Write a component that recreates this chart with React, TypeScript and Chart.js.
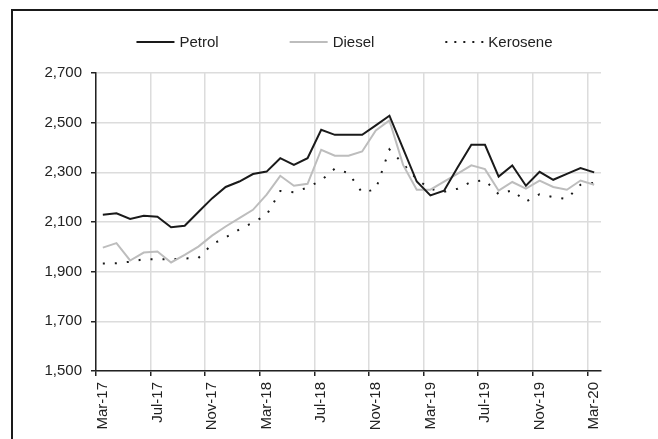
import React, { useEffect, useRef } from 'react';
import { Chart, registerables } from 'chart.js';

Chart.register(...registerables);

const months = [
  'Mar-17', 'Apr-17', 'May-17', 'Jun-17', 'Jul-17', 'Aug-17', 'Sep-17', 'Oct-17', 'Nov-17', 'Dec-17',
  'Jan-18', 'Feb-18', 'Mar-18', 'Apr-18', 'May-18', 'Jun-18', 'Jul-18', 'Aug-18', 'Sep-18', 'Oct-18',
  'Nov-18', 'Dec-18', 'Jan-19', 'Feb-19', 'Mar-19', 'Apr-19', 'May-19', 'Jun-19', 'Jul-19', 'Aug-19',
  'Sep-19', 'Oct-19', 'Nov-19', 'Dec-19', 'Jan-20', 'Feb-20', 'Mar-20',
];

const petrol = [
  2129, 2135, 2112, 2125, 2121, 2079, 2085, 2140, 2195, 2241,
  2263, 2293, 2303, 2357, 2330, 2357, 2471, 2451, 2451, 2451,
  2489, 2528, 2395, 2263, 2207, 2226, 2320, 2411, 2411, 2283,
  2328, 2246, 2302, 2270, 2294, 2317, 2300,
];

const diesel = [
  1997, 2015, 1945, 1977, 1981, 1937, 1968, 2001, 2045, 2082,
  2116, 2149, 2210, 2286, 2246, 2254, 2391, 2367, 2367, 2384,
  2469, 2509, 2330, 2230, 2230, 2263, 2295, 2328, 2313, 2226,
  2261, 2234, 2267, 2241, 2230, 2267, 2250,
];

const kerosene = [
  1933, 1934, 1940, 1950, 1950, 1950, 1953, 1955, 2010, 2038,
  2070, 2098, 2128, 2225, 2220, 2239, 2268, 2315, 2297, 2218,
  2232, 2392, 2335, 2272, 2233, 2222, 2234, 2262, 2268, 2212,
  2228, 2182, 2212, 2200, 2193, 2250, 2258,
];

const yMin = 1500;
const yMax = 2700;
const yStep = 200;
const labelEvery = 4;

const FONT = '"Liberation Sans", Arial, Helvetica, sans-serif';
const TEXT = '#222222';
const GRID = '#dcdcdc';
const AXIS = '#222222';

const lineLegend = {
  id: 'lineLegend',
  afterDraw(chart: any, _args: any, opts: any) {
    const ctx = chart.ctx as CanvasRenderingContext2D;
    const datasets = chart.data.datasets;
    ctx.save();
    ctx.font = `${opts.fontSize}px ${FONT}`;
    const widths = datasets.map((d: any) => ctx.measureText(d.label).width);
    const itemWidths = widths.map((w: number) => opts.sample + opts.textGap + w);
    const total = itemWidths.reduce((a: number, b: number) => a + b, 0) + opts.itemGap * (datasets.length - 1);
    const area = chart.chartArea;
    let x = (area.left + area.right) / 2 + opts.shift - total / 2;
    const y = opts.y;
    datasets.forEach((d: any, i: number) => {
      ctx.beginPath();
      ctx.lineWidth = d.borderWidth;
      ctx.strokeStyle = d.borderColor;
      ctx.setLineDash(d.legendDash || d.borderDash || []);
      ctx.moveTo(x, y);
      ctx.lineTo(x + opts.sample, y);
      ctx.stroke();
      ctx.setLineDash([]);
      ctx.fillStyle = TEXT;
      ctx.textBaseline = 'middle';
      ctx.textAlign = 'left';
      ctx.fillText(d.label, x + opts.sample + opts.textGap, y + 1);
      x += itemWidths[i] + opts.itemGap;
    });
    ctx.restore();
  },
};

export default function App() {
  const ref = useRef<HTMLCanvasElement>(null);

  useEffect(() => {
    if (!ref.current) return;
    Chart.defaults.font.family = FONT;
    const chart = new Chart(ref.current, {
      type: 'line',
      data: {
        labels: months,
        datasets: [
          {
            label: 'Petrol',
            data: petrol,
            borderColor: '#1a1a1a',
            borderWidth: 2,
            pointRadius: 0,
            tension: 0,
            fill: false,
          },
          {
            label: 'Diesel',
            data: diesel,
            borderColor: '#bdbdbd',
            borderWidth: 2,
            pointRadius: 0,
            tension: 0,
            fill: false,
          },
          {
            label: 'Kerosene',
            data: kerosene,
            borderColor: '#1a1a1a',
            borderWidth: 2,
            borderDash: [2, 10],
            legendDash: [2, 7],
            pointRadius: 0,
            tension: 0,
            fill: false,
          } as any,
        ],
      },
      options: {
        responsive: false,
        animation: false,
        devicePixelRatio: 1,
        layout: { padding: { left: 0, right: 57, top: 73, bottom: 0 } },
        plugins: {
          legend: { display: false },
          tooltip: { enabled: false },
          lineLegend: { y: 42, sample: 38, textGap: 5, itemGap: 71, fontSize: 15, shift: -4 },
        } as any,
        scales: {
          x: {
            type: 'category',
            offset: true,
            grid: {
              offset: true,
              lineWidth: 1.5,
              color: (c: any) => (c.index !== undefined && c.index % labelEvery === 0 ? GRID : 'rgba(0,0,0,0)'),
              tickColor: (c: any) => (c.index !== undefined && c.index % labelEvery === 0 ? AXIS : 'rgba(0,0,0,0)'),
              tickLength: 5,
              drawTicks: true,
            },
            border: { display: true, color: AXIS, width: 1.5 },
            ticks: {
              autoSkip: false,
              maxRotation: 90,
              minRotation: 90,
              padding: 6,
              color: TEXT,
              font: { size: 15, family: FONT },
              callback: (_v: any, i: number) => (i % labelEvery === 0 ? months[i] : ''),
            },
            afterFit: (s: any) => {
              s.height = 68;
            },
          },
          y: {
            min: yMin,
            max: yMax,
            grid: {
              lineWidth: 1.5,
              color: GRID,
              tickColor: AXIS,
              tickLength: 5,
            },
            border: { display: true, color: AXIS, width: 1.5 },
            ticks: {
              stepSize: yStep,
              padding: 9,
              color: TEXT,
              font: { size: 15, family: FONT },
              callback: (v: any) => Number(v).toLocaleString('en-US'),
            },
            afterFit: (s: any) => {
              s.width = 96;
            },
          },
        },
      },
      plugins: [lineLegend],
    });
    return () => chart.destroy();
  }, []);

  return (
    <div style={{ position: 'fixed', left: 0, top: 0, width: 658, height: 439, background: '#ffffff', overflow: 'hidden' }}>
      <div
        style={{
          position: 'absolute',
          left: 11,
          top: 9,
          width: 700,
          height: 500,
          border: '2px solid #1a1a1a',
          boxSizing: 'border-box',
        }}
      />
      <canvas ref={ref} width={658} height={439} style={{ position: 'absolute', left: 0, top: 0, display: 'block' }} />
    </div>
  );
}
